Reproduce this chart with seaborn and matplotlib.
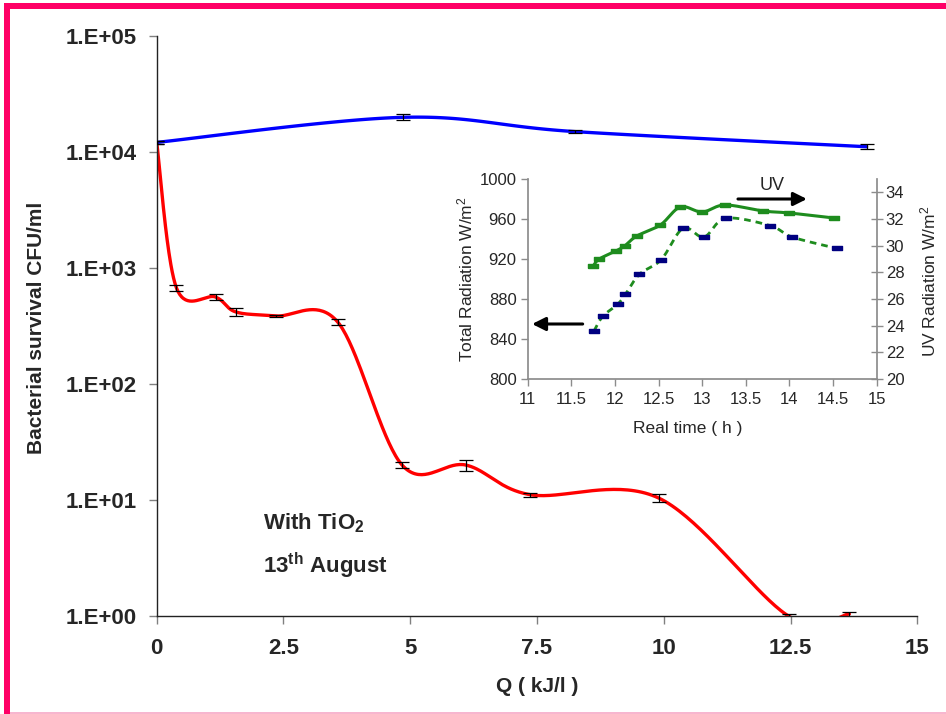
import numpy as np
import matplotlib
matplotlib.use("Agg")
import matplotlib.pyplot as plt
import seaborn as sns
from matplotlib.patches import Rectangle
from matplotlib.ticker import FixedLocator, NullLocator

# ---------------- data ----------------
# Bacterial survival with TiO2 (red) and the control run (blue)
q_tio2 = [0.0, 0.39, 1.16, 1.56, 2.35, 3.57, 4.84, 6.10, 7.37, 9.90, 12.46, 13.66]
cfu_tio2 = [12100, 673, 562, 418, 386, 342, 20, 20, 11.1, 10.4, 1.0, 1.04]
err_tio2 = [400, 45, 35, 30, 8, 20, 1.2, 2.2, 0.45, 0.8, 0.05, 0.05]

q_control = [0.0, 4.85, 8.24, 14.0]
cfu_control = [12100, 19900, 15000, 11100]
err_control = [400, 1200, 400, 550]

x_ticks = [0, 2.5, 5, 7.5, 10, 12.5, 15]
x_tick_labels = ["0", "2.5", "5", "7.5", "10", "12.5", "15"]
y_ticks = [1, 10, 100, 1000, 10000, 100000]
y_tick_labels = ["1.E+00", "1.E+01", "1.E+02", "1.E+03", "1.E+04", "1.E+05"]

# Radiation during the day (inset)
time_total = [11.75, 11.82, 12.01, 12.11, 12.25, 12.52, 12.75, 13.00, 13.26, 13.70, 14.00, 14.51]
total_rad = [913, 920, 928, 933, 943, 954, 972, 967, 974, 968, 966, 961]
time_uv = [11.76, 11.86, 12.03, 12.12, 12.28, 12.53, 12.78, 13.02, 13.27, 13.78, 14.03, 14.54]
uv_rad = [23.6, 24.7, 25.6, 26.35, 27.85, 28.95, 31.3, 30.65, 32.05, 31.5, 30.65, 29.8]

inset_x_ticks = [11, 11.5, 12, 12.5, 13, 13.5, 14, 14.5, 15]
inset_x_labels = ["11", "11.5", "12", "12.5", "13", "13.5", "14", "14.5", "15"]
total_ticks = [800, 840, 880, 920, 960, 1000]
uv_ticks = [20, 22, 24, 26, 28, 30, 32, 34]


def smooth_curve(x, y, n=40):
    """Spreadsheet-style smoothed line: cubic Bezier segments whose
    control points follow the neighbouring points (1/6 tangent rule)."""
    P = np.column_stack([np.asarray(x, float), np.asarray(y, float)])
    t = np.linspace(0, 1, n)[:, None]
    out = []
    for i in range(len(P) - 1):
        p0, p3 = P[i], P[i + 1]
        pm = P[i - 1] if i > 0 else P[i]
        pn = P[i + 2] if i + 2 < len(P) else P[i + 1]
        c1 = p0 + (p3 - pm) / 6.0
        c2 = p3 - (pn - p0) / 6.0
        seg = (1 - t) ** 3 * p0 + 3 * (1 - t) ** 2 * t * c1 + 3 * (1 - t) * t ** 2 * c2 + t ** 3 * p3
        out.append(seg if i == 0 else seg[1:])
    return np.vstack(out)


# ---------------- style ----------------
sns.set_theme(style="white")
plt.rcParams["font.family"] = ["Liberation Sans", "DejaVu Sans"]
plt.rcParams["mathtext.fontset"] = "custom"
plt.rcParams["mathtext.rm"] = "Liberation Sans"
plt.rcParams["mathtext.it"] = "Liberation Sans:italic"
plt.rcParams["mathtext.bf"] = "Liberation Sans:bold"

W, H = 946, 714
fig = plt.figure(figsize=(W / 100, H / 100), dpi=100)
fig.patch.set_facecolor("white")


def fx(px):
    return px / W


def fy(py):
    return 1 - py / H


# pink frame
pink = "#FF0066"
fig.patches.append(Rectangle((fx(4), 0), 6 / W, fy(3), transform=fig.transFigure,
                             facecolor=pink, edgecolor="none", zorder=0))
fig.patches.append(Rectangle((fx(4), fy(9)), 1 - fx(4), 6 / H, transform=fig.transFigure,
                             facecolor=pink, edgecolor="none", zorder=0))
fig.patches.append(Rectangle((fx(10), fy(713.5)), 1 - fx(10), 1.2 / H, transform=fig.transFigure,
                             facecolor="#F7B6CF", edgecolor="none", zorder=0))

# ---------------- main chart ----------------
ax = fig.add_axes([fx(156.7), fy(616), (917.3 - 156.7) / W, (616 - 36) / H])
ax.set_facecolor("none")

red = smooth_curve(q_tio2, np.log10(cfu_tio2))
blue = smooth_curve(q_control, np.log10(cfu_control))
sns.lineplot(x=red[:, 0], y=10 ** red[:, 1], sort=False, estimator=None,
             color="#FF0000", lw=2.4, ax=ax, zorder=2)
sns.lineplot(x=blue[:, 0], y=10 ** blue[:, 1], sort=False, estimator=None,
             color="#0000FF", lw=2.4, ax=ax, zorder=2)
ax.errorbar(q_tio2, cfu_tio2, yerr=err_tio2, fmt="none", ecolor="black",
            elinewidth=0.9, capsize=5, capthick=0.9, zorder=3)
ax.errorbar(q_control, cfu_control, yerr=err_control, fmt="none", ecolor="black",
            elinewidth=0.9, capsize=5, capthick=0.9, zorder=3)

ax.set_yscale("log")
ax.set_xlim(0, 15)
ax.set_ylim(1, 1e5)
ax.yaxis.set_major_locator(FixedLocator(y_ticks))
ax.yaxis.set_minor_locator(NullLocator())
ax.set_yticklabels(y_tick_labels)
ax.set_xticks(x_ticks)
ax.set_xticklabels(x_tick_labels)
for s in ("top", "right"):
    ax.spines[s].set_visible(False)
for s in ("left", "bottom"):
    ax.spines[s].set_color("#222222")
    ax.spines[s].set_linewidth(1.0)
ax.tick_params(axis="y", which="major", direction="out", length=5.5, width=1,
               color="#808080", pad=9, labelsize=16, left=True)
ax.tick_params(axis="x", which="major", direction="out", length=6, width=1,
               color="#808080", pad=10, labelsize=16, bottom=True)
for lab in ax.get_xticklabels() + ax.get_yticklabels():
    lab.set_fontweight("bold")
ax.set_xlabel("")
ax.set_ylabel("")

fig.text(fx(36.7), fy(327.5), "Bacterial survival CFU/ml", rotation=90,
         ha="center", va="center", fontsize=15, fontweight="bold")
fig.text(fx(537), fy(686), "Q ( kJ/l )", ha="center", va="center",
         fontsize=15, fontweight="bold")

fig.text(fx(263), fy(529), r"With TiO$_\mathbf{2}$", ha="left", va="baseline",
         fontsize=16, fontweight="bold")
fig.text(fx(263), fy(573), r"13$^\mathbf{th}$ August", ha="left", va="baseline",
         fontsize=16, fontweight="bold")

# ---------------- inset: radiation ----------------
green = "#1E8C1E"
navy = "#000080"
rect_marker = [(-1, -0.5), (1, -0.5), (1, 0.5), (-1, 0.5), (-1, -0.5)]

ax2 = fig.add_axes([fx(527.7), fy(379), 349 / W, 200 / H])
ax2.set_facecolor("white")
ax3 = ax2.twinx()

tot = smooth_curve(time_total, total_rad)
sns.lineplot(x=tot[:, 0], y=tot[:, 1], sort=False, estimator=None,
             color=green, lw=2.2, ax=ax2)
ax2.plot(time_total, total_rad, ls="none", marker=rect_marker, ms=7,
         color=green, mec=green)

uvc = smooth_curve(time_uv, uv_rad)
sns.lineplot(x=uvc[:, 0], y=uvc[:, 1], sort=False, estimator=None,
             color=green, lw=2.0, ax=ax3, dashes=False)
ax3.lines[-1].set_dashes([2.4, 1.8])
ax3.plot(time_uv, uv_rad, ls="none", marker=rect_marker, ms=6.5,
         color=navy, mec=navy)

ax2.set_xlim(11, 15)
ax2.set_ylim(800, 1000)
ax3.set_ylim(20, 35)
ax2.set_xticks(inset_x_ticks)
ax2.set_xticklabels(inset_x_labels)
ax2.set_yticks(total_ticks)
ax3.set_yticks(uv_ticks)

grey = "#8C8C8C"
for s in ("top", "right"):
    ax2.spines[s].set_visible(False)
for s in ("top", "left", "bottom"):
    ax3.spines[s].set_visible(False)
for s in ("left", "bottom"):
    ax2.spines[s].set_color(grey)
ax3.spines["right"].set_color(grey)
ax3.spines["right"].set_bounds(20, 35)

ax2.tick_params(axis="y", direction="out", length=5, width=1, color=grey,
                pad=3, labelsize=12, left=True)
ax2.tick_params(axis="x", direction="out", length=5, width=1, color=grey,
                pad=4, labelsize=12, bottom=True)
ax3.tick_params(axis="y", direction="inout", length=9, width=1, color=grey,
                pad=2, labelsize=12, right=True)
ax2.set_xlabel("")
ax2.set_ylabel("")
ax3.set_ylabel("")

fig.text(fx(465), fy(279), r"Total Radiation W/m$^\mathrm{2}$", rotation=90,
         ha="center", va="center", fontsize=12.5)
fig.text(fx(928), fy(281), r"UV Radiation W/m$^\mathrm{2}$", rotation=90,
         ha="center", va="center", fontsize=12.5)
fig.text(fx(688), fy(429), "Real time ( h )", ha="center", va="center", fontsize=12.5)

ax2.annotate("", xy=(14.20, 980), xytext=(13.41, 980),
             arrowprops=dict(arrowstyle="-|>", color="black", lw=2.2, mutation_scale=20,
                             shrinkA=0, shrinkB=0), annotation_clip=False)
ax2.annotate("", xy=(11.05, 855), xytext=(11.63, 855),
             arrowprops=dict(arrowstyle="-|>", color="black", lw=2.2, mutation_scale=20,
                             shrinkA=0, shrinkB=0), annotation_clip=False)
ax2.text(13.80, 994, "UV", ha="center", va="center", fontsize=13)

fig.savefig("out.png", dpi=100, facecolor="white")
